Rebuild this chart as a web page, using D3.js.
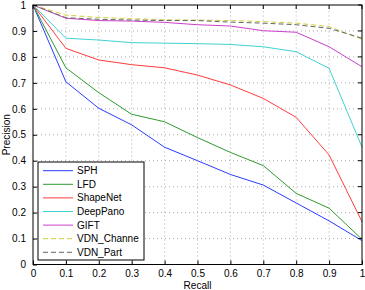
<!DOCTYPE html>
<html lang="en">
<head>
<meta charset="UTF-8">
<title>PR curves</title>
<script src="https://d3js.org/d3.v7.min.js"></script>
<style>
    body { margin: 0; background: #fff; }
    svg text { font-family: "Liberation Sans", Arial, sans-serif; fill: #000; }
</style>
</head>
<body>
<div id="chart"></div>
<script>
    const recall = [0, 0.1, 0.2, 0.3, 0.4, 0.5, 0.6, 0.7, 0.8, 0.9, 1];
    const sph      = [1, 0.704, 0.602, 0.538, 0.452, 0.400, 0.347, 0.306, 0.237, 0.168, 0.092];
    const lfd      = [1, 0.758, 0.662, 0.579, 0.550, 0.489, 0.432, 0.381, 0.274, 0.217, 0.097];
    const shapenet = [1, 0.833, 0.788, 0.770, 0.758, 0.730, 0.692, 0.640, 0.567, 0.422, 0.165];
    const deeppano = [1, 0.872, 0.865, 0.855, 0.853, 0.851, 0.848, 0.839, 0.820, 0.756, 0.452];
    const gift     = [1, 0.949, 0.940, 0.938, 0.933, 0.924, 0.919, 0.901, 0.895, 0.839, 0.762];
    const vdnChannel = [1, 0.961, 0.952, 0.947, 0.943, 0.942, 0.940, 0.936, 0.930, 0.917, 0.868];
    const vdnPart    = [1, 0.951, 0.945, 0.942, 0.940, 0.940, 0.934, 0.930, 0.924, 0.910, 0.872];
    const xTicks = [0, 0.1, 0.2, 0.3, 0.4, 0.5, 0.6, 0.7, 0.8, 0.9, 1];
    const yTicks = [0, 0.1, 0.2, 0.3, 0.4, 0.5, 0.6, 0.7, 0.8, 0.9, 1];

    const series = [
        { name: 'SPH', values: sph, color: '#2b3bff', dash: null },
        { name: 'LFD', values: lfd, color: '#2f9a2f', dash: null },
        { name: 'ShapeNet', values: shapenet, color: '#ff3b3b', dash: null },
        { name: 'DeepPano', values: deeppano, color: '#3fd2d2', dash: null },
        { name: 'GIFT', values: gift, color: '#cc3fcc', dash: null },
        { name: 'VDN_Channe', values: vdnChannel, color: '#cfcf3a', dash: '5,3' },
        { name: 'VDN_Part', values: vdnPart, color: '#666666', dash: '5,3' }
    ];

    const W = 365, H = 290;
    const m = { left: 33, right: 3, top: 5, bottom: 25.5 };

    const svg = d3.select('#chart').append('svg')
        .attr('width', W).attr('height', H);

    const x = d3.scaleLinear().domain([0, 1]).range([m.left, W - m.right]);
    const y = d3.scaleLinear().domain([0, 1]).range([H - m.bottom, m.top]);

    // grid
    const grid = svg.append('g')
        .attr('stroke', '#999').attr('stroke-width', 0.8)
        .attr('stroke-dasharray', '1,3');
    grid.selectAll('.gx').data(xTicks.slice(1, -1)).join('line')
        .attr('x1', d => x(d)).attr('x2', d => x(d))
        .attr('y1', y(0)).attr('y2', y(1));
    grid.selectAll('.gy').data(yTicks.slice(1, -1)).join('line')
        .attr('y1', d => y(d)).attr('y2', d => y(d))
        .attr('x1', x(0)).attr('x2', x(1));

    // lines
    const line = d3.line().x((d, i) => x(recall[i])).y(d => y(d));
    svg.append('g').selectAll('path').data(series).join('path')
        .attr('d', d => line(d.values))
        .attr('fill', 'none')
        .attr('stroke', d => d.color)
        .attr('stroke-width', 1)
        .attr('stroke-dasharray', d => d.dash);

    // axes
    const xAxis = d3.axisBottom(x).tickValues(xTicks).tickSize(-4).tickPadding(5.5)
        .tickFormat(d3.format('~g'));
    const yAxis = d3.axisLeft(y).tickValues(yTicks).tickSize(-4).tickPadding(7)
        .tickFormat(d3.format('~g'));
    const gx = svg.append('g').attr('transform', `translate(0,${y(0)})`).call(xAxis);
    const gy = svg.append('g').attr('transform', `translate(${x(0)},0)`).call(yAxis);
    [gx, gy].forEach(g => {
        g.select('.domain').remove();
        g.selectAll('text').attr('font-size', 10);
    });
    // top / right ticks
    svg.append('g').selectAll('line').data(xTicks).join('line')
        .attr('x1', d => x(d)).attr('x2', d => x(d))
        .attr('y1', y(1)).attr('y2', y(1) + 4).attr('stroke', '#000');
    svg.append('g').selectAll('line').data(yTicks).join('line')
        .attr('y1', d => y(d)).attr('y2', d => y(d))
        .attr('x1', x(1)).attr('x2', x(1) - 4).attr('stroke', '#000');

    svg.append('rect')
        .attr('x', x(0)).attr('y', y(1))
        .attr('width', x(1) - x(0)).attr('height', y(0) - y(1))
        .attr('fill', 'none').attr('stroke', '#000').attr('stroke-width', 1);

    svg.append('text').attr('x', (x(0) + x(1)) / 2).attr('y', 289)
        .attr('text-anchor', 'middle').attr('font-size', 10).text('Recall');
    svg.append('text')
        .attr('transform', `translate(9.5,${(y(0) + y(1)) / 2}) rotate(-90)`)
        .attr('text-anchor', 'middle').attr('font-size', 10).text('Precision');

    // legend
    const lg = svg.append('g').attr('transform', 'translate(38,162)');
    lg.append('rect').attr('width', 106).attr('height', 98)
        .attr('fill', '#fff').attr('stroke', '#000').attr('stroke-width', 1);
    const items = lg.selectAll('g').data(series).join('g')
        .attr('transform', (d, i) => `translate(0,${8.7 + i * 13.6})`);
    items.append('line').attr('x1', 5).attr('x2', 35)
        .attr('stroke', d => d.color).attr('stroke-width', 1)
        .attr('stroke-dasharray', d => d.dash);
    items.append('text').attr('x', 39).attr('y', 3.5)
        .attr('font-size', 10).text(d => d.name);
</script>
</body>
</html>
